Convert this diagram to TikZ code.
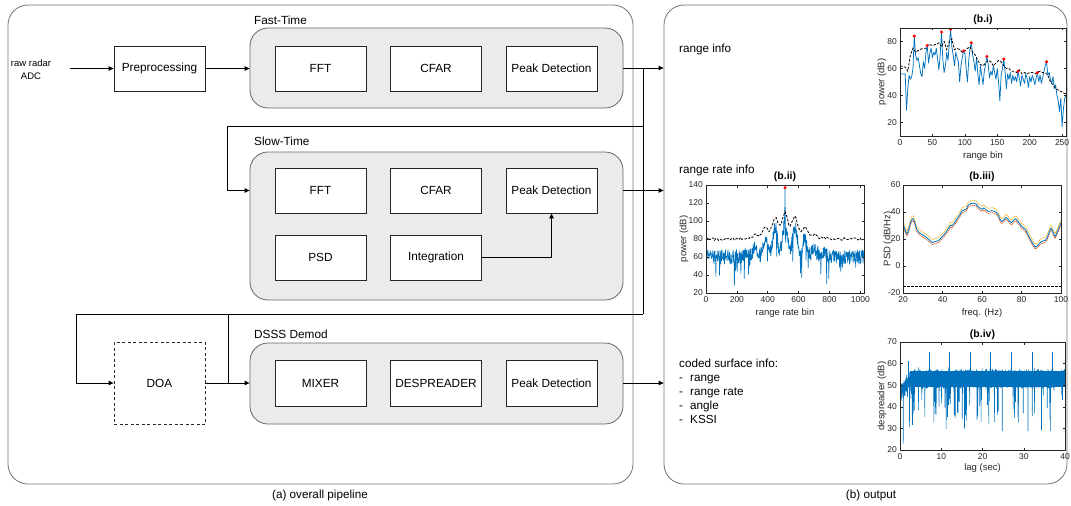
\documentclass[tikz,border=0pt]{standalone}
\usepackage{fontspec}
\setmainfont{Liberation Sans}
\usetikzlibrary{arrows.meta}
\definecolor{mblue}{HTML}{0072BD}
\definecolor{morange}{HTML}{D95319}
\definecolor{myellow}{HTML}{EDB120}
\definecolor{axc}{HTML}{262626}
\definecolor{grpfill}{HTML}{EBEBEB}
\begin{document}
\begin{tikzpicture}[x=1pt,y=-1pt,
  blk/.style={draw=black!85,line width=0.8pt,fill=white,minimum width=91pt,minimum height=45pt,inner sep=0pt,font=\fontsize{11.8}{14}\selectfont},
  grp/.style={draw=black!60,line width=0.8pt,fill=grpfill,rounded corners=18pt,inner sep=0pt},
  panel/.style={draw=black!55,line width=0.8pt,rounded corners=20pt,inner sep=0pt},
  grplab/.style={anchor=west,inner sep=0pt,font=\fontsize{11.8}{14}\selectfont},
  arr/.style={-{Triangle[length=5pt,width=4.5pt]},line width=0.9pt},
  wire/.style={line width=0.9pt},
  txt/.style={inner sep=0pt,font=\fontsize{11.7}{14}\selectfont},
  tklab/.style={font=\fontsize{8.5}{10}\selectfont,text=axc,inner sep=0pt},
  alab/.style={font=\fontsize{9.5}{11}\selectfont,text=axc,inner sep=0pt},
  ptitle/.style={font=\bfseries\fontsize{10.5}{12}\selectfont,inner sep=0pt},
  axline/.style={draw=axc,line width=0.5pt},
  dline/.style={black,line width=0.8pt,dash pattern=on 2.5pt off 1.5pt}
]
\useasboundingbox (0,0) rectangle (1071,506);

% ---------- panels ----------
\node[panel,minimum width=625pt,minimum height=479pt] (leftp) at (320.5,244.5) {};
\node[panel,minimum width=403pt,minimum height=479pt] (rightp) at (865.5,244.5) {};

% ---------- groups ----------
\node[grp,minimum width=373pt,minimum height=80pt] (fastg) at (436.5,68) {};
\node[grp,minimum width=373pt,minimum height=148pt] (slowg) at (436.5,226) {};
\node[grp,minimum width=373pt,minimum height=81pt] (dsssg) at (436.5,383.5) {};
\node[grplab] (fastl) at (254,20) {Fast-Time};
\node[grplab] (slowl) at (254,141) {Slow-Time};
\node[grplab] (dsssl) at (254,334) {DSSS Demod};

% ---------- blocks ----------
\node[txt,align=center,font=\fontsize{9.5}{13}\selectfont] (raw) at (31,69.5) {raw radar\\ADC};
\node[blk] (pre) at (159.5,68.5) {Preprocessing};
\node[blk] (ffft) at (320.5,68.5) {FFT};
\node[blk] (fcfar) at (436,68.5) {CFAR};
\node[blk] (fpeak) at (551.5,68.5) {Peak Detection};
\node[blk] (sfft) at (320.5,190.5) {FFT};
\node[blk] (scfar) at (436,190.5) {CFAR};
\node[blk] (speak) at (551.5,190.5) {Peak Detection};
\node[blk] (spsd) at (320.5,257.5) {PSD};
\node[blk] (sint) at (436,257.5) {Integration};
\node[blk,minimum height=46pt] (mix) at (320.5,383) {MIXER};
\node[blk,minimum height=46pt] (desp) at (436,383) {DESPREADER};
\node[blk,minimum height=46pt] (dpeak) at (551.5,383) {Peak Detection};
\node[blk,dash pattern=on 3pt off 2.5pt,minimum height=82pt] (doa) at (159.5,383) {DOA};

% ---------- connectors ----------
\coordinate (adc) at (70,68.5);
\coordinate (bustop) at (643,68);
\coordinate (slowfork) at (643,126);
\coordinate (sturn) at (227,126);
\coordinate (busbot) at (643,314);
\coordinate (dturn) at (76,314);
\coordinate (dfork) at (228,314);
\draw[arr] (adc) -- (pre.west);
\draw[arr] (pre.east) -- (fastg.west |- pre.east);
\draw[arr] (fastg.east) -- (fastg.east -| rightp.west);
\draw[wire] (bustop) -- (busbot);
\draw[arr] (slowfork) -- (sturn) |- (sfft -| slowg.west);
\draw[arr] (slowg.east |- speak) -- (speak -| rightp.west);
\draw[arr] (sint.east) -| (speak.south);
\draw[arr] (busbot) -- (dturn) |- (doa.west);
\draw[wire] (dfork) -- (dfork |- doa.east);
\draw[arr] (doa.east) -- (dsssg.west |- doa.east);
\draw[arr] (dsssg.east |- dpeak) -- (dpeak -| rightp.west);

% ---------- captions ----------
\node[txt] (capa) at (320,495) {(a) overall pipeline};
\node[txt] (capb) at (871,495) {(b) output};

% ---------- right texts ----------
\node[txt,anchor=base west] (rinfo) at (679,52) {range info};
\node[txt,anchor=base west] (rrinfo) at (679,173) {range rate info};
\node[txt,anchor=base west] (cs0) at (679,367) {coded surface info:};
\node[txt,anchor=base west] (cd1) at (679,381) {-};
\node[txt,anchor=base west] (cs1) at (690,381) {range};
\node[txt,anchor=base west] (cd2) at (679,395) {-};
\node[txt,anchor=base west] (cs2) at (690,395) {range rate};
\node[txt,anchor=base west] (cd3) at (679,409) {-};
\node[txt,anchor=base west] (cs3) at (690,409) {angle};
\node[txt,anchor=base west] (cd4) at (679,423) {-};
\node[txt,anchor=base west] (cs4) at (690,423) {KSSI};

% ---------- plot (b.i) ----------
\begin{scope}[shift={(900pt,-136pt)},x=0.6484pt,y=1.35pt]
\begin{scope}[shift={(0,-10)}]
 \begin{scope}
  \clip (0,10) rectangle (256,90);
  \draw[mblue,line width=0.75pt,line join=round] plot coordinates {(0,56) (8,56) (10,29) (12,45) (14,55) (16,52) (18,54) (20,60) (22,84) (24,70) (26,66) (28,68) (30,62) (32,56) (34,54) (36,65) (38,60) (40,72) (42,77) (44,64) (46,71) (48,75) (50,68) (52,72) (54,70) (56,75) (58,67) (60,59) (62,70) (64,87) (66,67) (68,57) (70,62) (72,72) (74,66) (76,78) (78,89) (80,76) (82,70) (84,62) (86,72) (88,68) (90,65) (92,50) (94,62) (96,68) (98,73) (100,71) (102,60) (104,50) (106,66) (108,75) (110,79) (112,70) (114,65) (116,58) (118,68) (120,56) (122,48) (124,62) (126,55) (128,48) (130,58) (132,63) (134,69) (136,63) (138,53) (140,58) (142,55) (144,62) (146,57) (148,52) (150,60) (152,50) (154,36) (156,55) (158,60) (160,67) (162,58) (164,45) (166,56) (168,52) (170,57) (172,49) (174,55) (176,51) (178,54) (180,50) (182,58) (184,53) (186,47) (188,55) (190,52) (192,49) (194,56) (196,53) (198,46) (200,54) (202,50) (204,55) (206,52) (208,48) (210,53) (212,57) (214,50) (216,55) (218,49) (220,53) (222,58) (224,62) (226,65) (228,55) (230,57) (232,52) (234,49) (236,54) (238,45) (240,48) (242,40) (244,36) (246,28) (248,38) (250,17) (252,30) (254,38) (256,40)};
  \draw[dline] plot coordinates {(0,62) (8,61) (12,58) (16,70) (20,75) (24,72) (30,74) (36,75) (40,75) (44,78) (50,77) (56,78) (60,79) (64,76) (68,80) (72,74) (76,80) (80,82) (84,74) (88,75) (92,74) (96,72) (100,73) (104,75) (108,76) (112,72) (116,70) (120,66) (124,63) (128,62) (132,64) (136,66) (140,65) (144,62) (148,64) (152,66) (156,65) (160,62) (164,60) (168,60) (172,58) (176,58) (180,57) (184,59) (188,56) (192,57) (196,56) (200,57) (204,57) (208,56) (212,57) (216,58) (220,57) (224,57) (228,55) (232,50) (236,48) (240,45) (244,44) (248,43) (252,42) (256,41)};
 \end{scope}
 \foreach \px/\py in {22/84,42/77,64/87,78/89,98/73,110/79,134/69,160/67,182/58,212/57,226/65}
   \fill[red] (\px,\py) circle[radius=1.7pt];
 \draw[axline] (0,10) rectangle (256,90);
 \foreach \t [count=\i] in {0,50,100,150,200,250} {
   \draw[axline] (\t,10) -- ++(0pt,2.5pt) (\t,90) -- ++(0pt,-2.5pt);
   \node[tklab,anchor=north] (bix\i) at ([yshift=-3pt]\t,10) {\t};
 }
 \foreach \t [count=\i] in {20,40,60,80} {
   \draw[axline] (0,\t) -- ++(2.5pt,0pt) (256,\t) -- ++(-2.5pt,0pt);
   \node[tklab,anchor=east] (biy\i) at ([xshift=-3pt]0,\t) {\t};
 }
 \node[ptitle] (bititle) at ([yshift=8pt]128,90) {(b.i)};
 \node[alab] (bixl) at ([yshift=-20pt]128,10) {range bin};
 \node[alab,rotate=90] (biyl) at ([xshift=-18pt]0,50) {power (dB)};
\end{scope}
\end{scope}

% ---------- plot (b.ii) ----------
\begin{scope}[shift={(706pt,-293pt)},x=0.1543pt,y=0.9pt]
\begin{scope}[shift={(0,-20)}]
 \begin{scope}
  \clip (0,20) rectangle (1024,140);
  \pgfmathsetseed{11}
  \draw[mblue,line width=0.65pt,line join=round] plot[domain=0:1024,samples=513] (\x,{max(60+38*exp(-min(((\x-512)/165)^2,9))*(0.6+0.4*cos(5.5*(\x-512)))+8*rand-26*max(0,rnd-0.9)/0.1,137*max(0,1-abs(\x-512)/2))});
  \draw[dline] plot[domain=0:1024,samples=129] (\x,{80+30*exp(-min(((\x-512)/140)^2,9))*(0.75+0.25*cos(5.5*(\x-512)))+1.5*rand});
 \end{scope}
 \fill[red] (512,137) circle[radius=1.7pt];
 \draw[axline] (0,20) rectangle (1024,140);
 \foreach \t [count=\i] in {0,200,400,600,800,1000} {
   \draw[axline] (\t,20) -- ++(0pt,2.5pt) (\t,140) -- ++(0pt,-2.5pt);
   \node[tklab,anchor=north] (biix\i) at ([yshift=-3pt]\t,20) {\t};
 }
 \foreach \t [count=\i] in {20,40,60,80,100,120,140} {
   \draw[axline] (0,\t) -- ++(2.5pt,0pt) (1024,\t) -- ++(-2.5pt,0pt);
   \node[tklab,anchor=east] (biiy\i) at ([xshift=-3pt]0,\t) {\t};
 }
 \node[ptitle] (biititle) at ([yshift=8pt]512,140) {(b.ii)};
 \node[alab] (biixl) at ([yshift=-20pt]512,20) {range rate bin};
 \node[alab,rotate=90] (biiyl) at ([xshift=-22pt]0,80) {power (dB)};
\end{scope}
\end{scope}

% ---------- plot (b.iii) ----------
\begin{scope}[shift={(903pt,-293pt)},x=1.975pt,y=1.35pt]
\begin{scope}[shift={(-20,20)}]
 \begin{scope}
  \clip (20,-20) rectangle (100,60);
  \foreach \off/\col in {3/myellow,-2/morange} {
   \begin{scope}[yshift=\off pt]
    \draw[color=\col,line width=0.7pt,dash pattern=on 1.5pt off 0.7pt] plot[smooth,tension=0.5] coordinates {(20,31) (21,27) (22,24) (23,27.5) (24,33) (25,35) (26,32) (27,27) (28,25) (30,23) (32,21) (34,18.5) (35,17.5) (36,18) (38,19) (40,22) (42,25.5) (44,30) (45,30) (47,34) (49,38.5) (50,41) (52,42) (53,45) (55,46.5) (57,46) (58,44) (60,42) (61,43) (63,40.5) (65,41) (67,40) (68,38.5) (69,35) (70,33) (71,34) (72,36) (73,35) (74,33) (75,32) (76,34) (77,35) (78,33.5) (80,29.5) (82,27) (84,21) (86,16) (87,14) (88,15) (90,18) (92,19) (93,21) (94,25) (95,28) (96,25) (97,22) (98,25) (100,32)};
   \end{scope}
  }
  \draw[mblue,line width=0.8pt] plot[smooth,tension=0.5] coordinates {(20,31) (21,27) (22,24) (23,27.5) (24,33) (25,35) (26,32) (27,27) (28,25) (30,23) (32,21) (34,18.5) (35,17.5) (36,18) (38,19) (40,22) (42,25.5) (44,30) (45,30) (47,34) (49,38.5) (50,41) (52,42) (53,45) (55,46.5) (57,46) (58,44) (60,42) (61,43) (63,40.5) (65,41) (67,40) (68,38.5) (69,35) (70,33) (71,34) (72,36) (73,35) (74,33) (75,32) (76,34) (77,35) (78,33.5) (80,29.5) (82,27) (84,21) (86,16) (87,14) (88,15) (90,18) (92,19) (93,21) (94,25) (95,28) (96,25) (97,22) (98,25) (100,32)};
  \draw[dline] (20,-15) -- (100,-15);
 \end{scope}
 \draw[axline] (20,-20) rectangle (100,60);
 \foreach \t [count=\i] in {20,40,60,80,100} {
   \draw[axline] (\t,-20) -- ++(0pt,2.5pt) (\t,60) -- ++(0pt,-2.5pt);
   \node[tklab,anchor=north] (biiix\i) at ([yshift=-3pt]\t,-20) {\t};
 }
 \foreach \t [count=\i] in {-20,0,20,40,60} {
   \draw[axline] (20,\t) -- ++(2.5pt,0pt) (100,\t) -- ++(-2.5pt,0pt);
   \node[tklab,anchor=east] (biiiy\i) at ([xshift=-2.5pt]20,\t) {\t};
 }
 \node[ptitle] (biiititle) at ([yshift=8pt]60,60) {(b.iii)};
 \node[alab] (biiixl) at ([yshift=-20pt]60,-20) {freq. (Hz)};
 \node[alab,rotate=90] (biiiyl) at ([xshift=-15pt]20,20) {PSD (dB/Hz)};
\end{scope}
\end{scope}

% ---------- plot (b.iv) ----------
\begin{scope}[shift={(900pt,-450pt)},x=4.125pt,y=2.16pt]
\begin{scope}[shift={(0,-20)}]
 \begin{scope}
  \clip (0,20) rectangle (40,70);
  \fill[mblue] (2.5,49) rectangle (40,56.5);
  \pgfmathsetmacro{\dummy}{0}
  \pgfmathsetseed{5}
  \draw[mblue,line width=0.6pt] plot[domain=0.25:40,samples=1000] (\x,{53+4.5*rand-7*max(0,1-\x/2.5)-22*max(0,rnd-0.9)/0.1});
  \draw[mblue,line width=0.6pt] (0,22) -- (0.1,40) -- (0.25,48);
  \foreach \t in {7,12,17,22,27,32,37} \draw[mblue,line width=0.6pt] (\t,54) -- (\t,65.3);
  \draw[mblue,line width=0.6pt] (1.9,54) -- (1.9,61);
 \end{scope}
 \draw[axline] (0,20) rectangle (40,70);
 \foreach \t [count=\i] in {0,10,20,30,40} {
   \draw[axline] (\t,20) -- ++(0pt,2.5pt) (\t,70) -- ++(0pt,-2.5pt);
   \node[tklab,anchor=north] (bivx\i) at ([yshift=-3pt]\t,20) {\t};
 }
 \foreach \t [count=\i] in {20,30,40,50,60,70} {
   \draw[axline] (0,\t) -- ++(2.5pt,0pt) (40,\t) -- ++(-2.5pt,0pt);
   \node[tklab,anchor=east] (bivy\i) at ([xshift=-3pt]0,\t) {\t};
 }
 \node[ptitle] (bivtitle) at ([yshift=7pt]20,70) {(b.iv)};
 \node[alab] (bivxl) at ([yshift=-18pt]20,20) {lag (sec)};
 \node[alab,rotate=90] (bivyl) at ([xshift=-18pt]0,45) {despreader (dB)};
\end{scope}
\end{scope}

\end{tikzpicture}
\end{document}
